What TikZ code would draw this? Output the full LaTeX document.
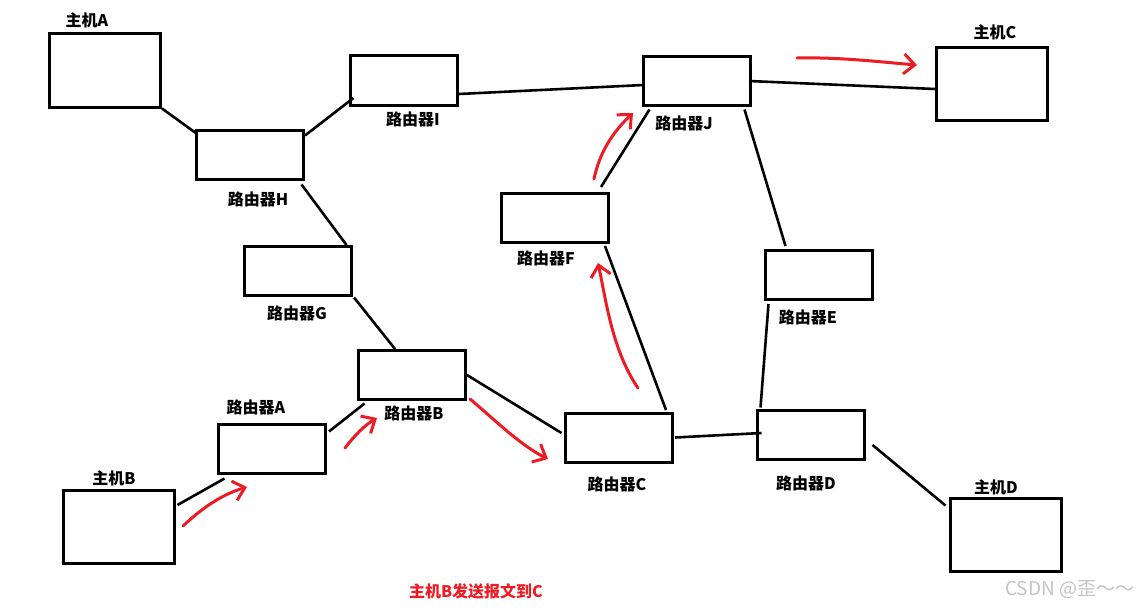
\documentclass[tikz,border=0pt]{standalone}
\usepackage{fontspec}
\newfontfamily\cjk{Noto Sans CJK SC}
\usetikzlibrary{calc,arrows.meta}
\definecolor{pen}{RGB}{237,28,36}
\definecolor{mark}{RGB}{195,195,195}
\tikzset{
  router/.style={draw, line width=3pt, minimum width=107pt, minimum height=49pt, inner sep=0pt},
  host/.style={draw, line width=3pt, minimum width=111pt, minimum height=73pt, inner sep=0pt},
  lbl/.style={font=\cjk\bfseries\fontsize{16}{18}\selectfont, inner sep=0pt},
  link/.style={line width=2.6pt},
  flow/.style={pen, line width=3pt, line cap=round, -{Straight Barb[length=11pt,width=20pt,line width=3pt]}},
}
\begin{document}
\begin{tikzpicture}[x=1pt,y=-1pt]
\useasboundingbox (0,0) rectangle (1148,610);
% boxes
\node[host] (hostA) at (105,70.5) {};
\node[router] (rH) at (250,155) {};
\node[router] (rI) at (404,80.5) {};
\node[router] (rJ) at (697,81) {};
\node[host] (hostC) at (992,84) {};
\node[router] (rF) at (554.5,217.5) {};
\node[router] (rG) at (298,270.5) {};
\node[router] (rE) at (819,274.5) {};
\node[router] (rB) at (412,375) {};
\node[router] (rA) at (272,449) {};
\node[router] (rC) at (618.5,437.5) {};
\node[router] (rD) at (811,435) {};
\node[host] (hostB) at (119,526.5) {};
\node[host] (hostD) at (1006,535) {};
% labels
\node[lbl] (lA) at (87,20) {主机A};
\node[lbl] (lH) at (258,199) {路由器H};
\node[lbl] (lI) at (413,119) {路由器I};
\node[lbl] (lJ) at (684,123) {路由器J};
\node[lbl] (lC) at (995,32) {主机C};
\node[lbl] (lF) at (546,258) {路由器F};
\node[lbl] (lG) at (297,313) {路由器G};
\node[lbl] (lE) at (808,317) {路由器E};
\node[lbl] (lB) at (414,413) {路由器B};
\node[lbl] (lrA) at (256,407) {路由器A};
\node[lbl] (lrC) at (617,484) {路由器C};
\node[lbl] (lrD) at (806,483) {路由器D};
\node[lbl] (lhB) at (114,478) {主机B};
\node[lbl] (lhD) at (996,487) {主机D};
\node[lbl, text=pen] (title) at (476,591) {主机B发送报文到C};
\node[font=\cjk\fontsize{19}{21}\selectfont, text=mark, anchor=west, inner sep=0pt] (wm) at (1005,590) {CSDN @歪～～};
% links
\draw[link] (hostA.south east) -- ($(rH.north west)+(1.5,4.5)$);
\draw[link] ($(rH.north east)+(0,6.5)$) -- ($(rI.south west)+(4.5,-8.5)$);
\draw[link] ($(rI.south east)+(0,-12.5)$) -- ($(rJ.west)+(1.5,4)$);
\draw[link] ($(rJ.east)+(-3,0)$) -- ($(hostC.west)+(0,5)$);
\draw[link] ($(rH.south east)+(-3.5,3.5)$) -- ($(rG.north east)+(-6.5,0.5)$);
\draw[link] ($(rG.south east)+(1,1)$) -- ($(rB.north)+(-17,0)$);
\draw[link] ($(rA.north east)+(2,8.5)$) -- ($(rB.south west)+(7.5,2.5)$);
\draw[link] (rB.east) -- ($(rC.west)+(-2,-4.5)$);
\draw[link] ($(hostB.north east)+(1.5,16.5)$) -- ($(rA.south west)+(7.5,3.5)$);
\draw[link] ($(rF.south east)+(-4.5,2.5)$) -- ($(rC.north east)+(-7.5,-1.5)$);
\draw[link] ($(rF.north east)+(-8.5,-4.5)$) -- ($(rJ.south west)+(7.5,2.5)$);
\draw[link] ($(rJ.south east)+(-7.5,2.5)$) -- ($(rE.north west)+(21.5,-2.5)$);
\draw[link] ($(rE.south west)+(4.5,3.5)$) -- ($(rD.north west)+(4.5,-1.5)$);
\draw[link] ($(rC.east)+(1.5,0)$) -- ($(rD.west)+(5.5,-2)$);
\draw[link] ($(rD.east)+(6.5,10)$) -- ($(hostD.north west)+(-3.5,8.5)$);
% red flow arrows
\coordinate (f1s) at (183,526); \coordinate (f1e) at (247,487);
\coordinate (f2s) at (345,448); \coordinate (f2e) at (377,418);
\coordinate (f3s) at (470,399); \coordinate (f3e) at (548,459);
\coordinate (f4s) at (638,388); \coordinate (f4e) at (598,263);
\coordinate (f5s) at (594,179); \coordinate (f5e) at (633,113);
\coordinate (f6s) at (797,58);  \coordinate (f6e) at (917,65);
\draw[flow] (f1s) .. controls (200,510) and (220,495) .. (f1e);
\draw[flow] (f2s) .. controls (355,435) and (365,425) .. (f2e);
\draw[flow] (f3s) .. controls (495,420) and (520,445) .. (f3e);
\draw[flow] (f4s) .. controls (612,350) and (606,300) .. (f4e);
\draw[flow] (f5s) .. controls (600,150) and (615,130) .. (f5e);
\draw[flow] (f6s) .. controls (840,57) and (880,62) .. (f6e);
\end{tikzpicture}
\end{document}
